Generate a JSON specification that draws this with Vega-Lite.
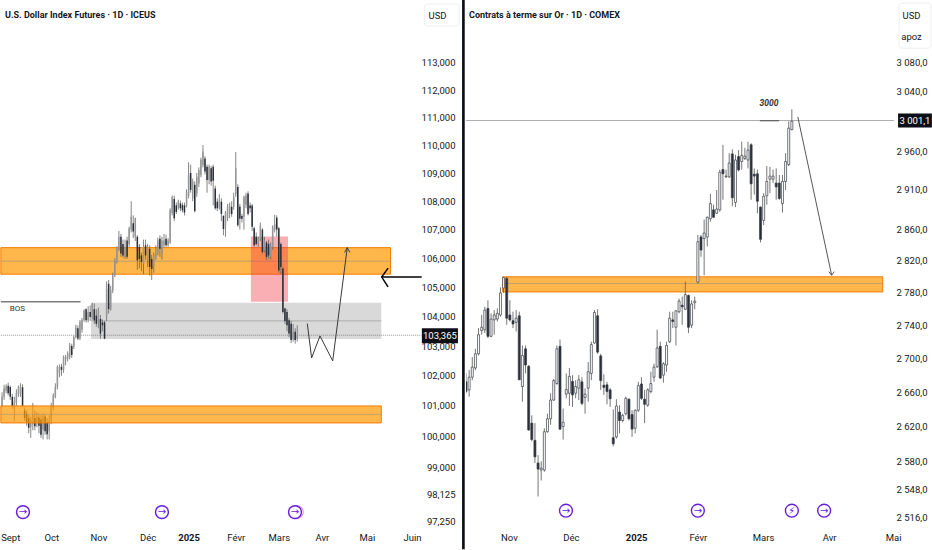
{"$schema":"https://vega.github.io/schema/vega-lite/v6.json","padding":0,"spacing":0,"background":"white","config":{"view":{"stroke":null},"font":"Roboto","concat":{"spacing":0}},
"datasets":{
"candL":[
{"i":1,"o":101.0,"c":101.3,"h":101.45,"l":100.95},{"i":2,"o":101.3,"c":101.58,"h":101.7,"l":101.2},{"i":3,"o":101.5,"c":101.65,"h":101.72,"l":101.42},{"i":4,"o":101.67,"c":101.42,"h":101.77,"l":101.35},{"i":5,"o":101.63,"c":101.3,"h":101.68,"l":101.2},{"i":6,"o":101.3,"c":101.0,"h":101.4,"l":100.9},{"i":7,"o":100.92,"c":101.15,"h":101.3,"l":100.5},{"i":8,"o":101.1,"c":101.42,"h":101.55,"l":101.0},{"i":9,"o":101.4,"c":101.62,"h":101.68,"l":101.3},
{"i":10,"o":101.42,"c":101.65,"h":101.75,"l":101.3},{"i":11,"o":101.62,"c":101.0,"h":101.72,"l":100.95},{"i":12,"o":100.85,"c":100.6,"h":100.95,"l":100.5},{"i":13,"o":100.75,"c":100.45,"h":100.85,"l":100.35},{"i":14,"o":100.6,"c":100.28,"h":100.7,"l":100.1},{"i":15,"o":100.3,"c":100.55,"h":100.65,"l":99.95},{"i":16,"o":100.4,"c":100.7,"h":101.1,"l":100.2},{"i":17,"o":100.6,"c":100.33,"h":100.85,"l":100.2},{"i":18,"o":100.45,"c":100.65,"h":100.8,"l":100.3},{"i":19,"o":100.62,"c":100.35,"h":100.75,"l":100.1},
{"i":20,"o":100.55,"c":100.05,"h":100.7,"l":99.95},{"i":21,"o":100.22,"c":100.65,"h":100.75,"l":99.9},{"i":22,"o":100.65,"c":100.17,"h":100.72,"l":100.05},{"i":23,"o":100.45,"c":100.07,"h":100.6,"l":99.9},{"i":24,"o":100.17,"c":100.5,"h":100.7,"l":99.9},{"i":25,"o":100.5,"c":100.98,"h":101.1,"l":100.4},{"i":26,"o":100.93,"c":101.35,"h":101.42,"l":100.85},{"i":27,"o":101.3,"c":101.63,"h":101.75,"l":101.25},{"i":28,"o":101.63,"c":102.3,"h":102.35,"l":101.55},{"i":29,"o":102.08,"c":102.3,"h":102.38,"l":101.95},
{"i":30,"o":102.3,"c":102.2,"h":102.4,"l":102.0},{"i":31,"o":102.2,"c":102.63,"h":102.68,"l":102.1},{"i":32,"o":102.55,"c":102.63,"h":102.7,"l":102.35},{"i":33,"o":102.58,"c":102.75,"h":102.82,"l":102.48},{"i":34,"o":102.63,"c":103.03,"h":103.1,"l":102.55},{"i":35,"o":103.0,"c":102.7,"h":103.08,"l":102.6},{"i":36,"o":102.98,"c":103.3,"h":103.35,"l":102.9},{"i":37,"o":103.3,"c":103.63,"h":103.72,"l":103.25},{"i":38,"o":103.6,"c":103.25,"h":103.7,"l":103.2},{"i":39,"o":103.25,"c":103.82,"h":103.88,"l":103.2},
{"i":40,"o":103.55,"c":103.88,"h":103.95,"l":103.45},{"i":41,"o":103.88,"c":104.2,"h":104.25,"l":103.82},{"i":42,"o":104.25,"c":103.87,"h":104.28,"l":103.8},{"i":43,"o":103.87,"c":104.15,"h":104.35,"l":103.8},{"i":44,"o":104.15,"c":103.98,"h":104.38,"l":103.85},{"i":45,"o":103.98,"c":104.43,"h":104.47,"l":103.9},{"i":46,"o":104.25,"c":103.87,"h":104.45,"l":103.75},{"i":47,"o":104.03,"c":103.75,"h":104.25,"l":103.65},{"i":48,"o":103.85,"c":104.2,"h":104.3,"l":103.6},{"i":49,"o":103.92,"c":103.42,"h":104.05,"l":103.25},
{"i":50,"o":103.8,"c":103.7,"h":103.9,"l":103.5},{"i":51,"o":103.8,"c":103.25,"h":103.85,"l":103.23},{"i":52,"o":104.02,"c":104.95,"h":105.2,"l":103.85},{"i":53,"o":105.12,"c":104.25,"h":105.25,"l":104.1},{"i":54,"o":104.25,"c":104.9,"h":105.05,"l":104.2},{"i":55,"o":104.88,"c":105.4,"h":105.5,"l":104.8},{"i":56,"o":105.4,"c":105.93,"h":106.0,"l":105.35},{"i":57,"o":105.87,"c":106.38,"h":106.42,"l":105.82},{"i":58,"o":106.33,"c":106.75,"h":106.95,"l":106.25},{"i":59,"o":106.75,"c":106.17,"h":106.85,"l":106.05},
{"i":60,"o":106.5,"c":106.1,"h":106.65,"l":106.02},{"i":61,"o":106.05,"c":106.4,"h":106.65,"l":105.98},{"i":62,"o":106.62,"c":106.05,"h":106.75,"l":105.98},{"i":63,"o":106.5,"c":107.05,"h":107.1,"l":106.4},{"i":64,"o":107.0,"c":107.45,"h":108.0,"l":106.9},{"i":65,"o":107.22,"c":106.93,"h":107.5,"l":106.7},{"i":66,"o":106.75,"c":107.4,"h":107.42,"l":106.6},{"i":67,"o":106.75,"c":105.93,"h":106.8,"l":105.6},{"i":68,"o":106.4,"c":105.98,"h":106.5,"l":105.65},{"i":69,"o":106.1,"c":105.87,"h":106.2,"l":105.55},
{"i":70,"o":105.8,"c":106.4,"h":106.65,"l":105.45},{"i":71,"o":106.45,"c":106.1,"h":106.65,"l":105.95},{"i":72,"o":105.93,"c":106.38,"h":106.5,"l":105.7},{"i":73,"o":106.33,"c":105.7,"h":106.45,"l":105.4},{"i":74,"o":105.98,"c":105.63,"h":106.12,"l":105.25},{"i":75,"o":105.75,"c":106.1,"h":106.2,"l":105.5},{"i":76,"o":106.0,"c":106.33,"h":106.45,"l":105.95},{"i":77,"o":106.2,"c":106.62,"h":106.72,"l":106.1},{"i":78,"o":106.68,"c":106.33,"h":106.8,"l":106.05},{"i":79,"o":106.15,"c":106.62,"h":106.75,"l":105.95},
{"i":80,"o":106.45,"c":106.62,"h":106.85,"l":106.38},{"i":81,"o":106.68,"c":106.45,"h":106.82,"l":106.4},{"i":82,"o":106.45,"c":106.62,"h":106.7,"l":106.4},{"i":83,"o":106.55,"c":107.7,"h":107.75,"l":106.5},{"i":84,"o":107.58,"c":108.15,"h":108.2,"l":107.5},{"i":85,"o":108.08,"c":107.4,"h":108.2,"l":107.3},{"i":86,"o":107.85,"c":107.62,"h":107.95,"l":107.55},{"i":87,"o":107.78,"c":107.98,"h":108.05,"l":107.7},{"i":88,"o":107.92,"c":107.75,"h":108.02,"l":107.65},{"i":89,"o":107.87,"c":107.68,"h":107.95,"l":107.6},
{"i":90,"o":107.85,"c":107.6,"h":107.95,"l":107.5},{"i":91,"o":107.85,"c":108.33,"h":108.42,"l":107.78},{"i":92,"o":108.2,"c":108.92,"h":109.38,"l":108.1},{"i":93,"o":109.0,"c":108.4,"h":109.3,"l":108.3},{"i":94,"o":108.1,"c":108.7,"h":108.8,"l":108.0},{"i":95,"o":108.58,"c":107.65,"h":108.7,"l":107.6},{"i":96,"o":108.27,"c":108.87,"h":109.0,"l":108.15},{"i":97,"o":108.63,"c":109.1,"h":109.2,"l":108.5},{"i":98,"o":108.93,"c":109.47,"h":109.55,"l":108.85},{"i":99,"o":109.28,"c":109.77,"h":110.0,"l":109.2},
{"i":100,"o":109.52,"c":109.05,"h":109.6,"l":108.95},{"i":101,"o":109.22,"c":108.75,"h":109.3,"l":108.3},{"i":102,"o":108.75,"c":109.22,"h":109.3,"l":108.6},{"i":103,"o":109.17,"c":108.7,"h":109.25,"l":108.55},{"i":104,"o":109.22,"c":108.72,"h":109.3,"l":107.85},{"i":105,"o":108.45,"c":107.75,"h":108.55,"l":107.7},{"i":106,"o":107.98,"c":107.75,"h":108.1,"l":107.65},{"i":107,"o":107.75,"c":108.03,"h":108.25,"l":107.7},{"i":108,"o":107.98,"c":107.55,"h":108.1,"l":107.3},{"i":109,"o":107.48,"c":107.02,"h":107.5,"l":106.8},
{"i":110,"o":107.15,"c":107.6,"h":107.65,"l":106.75},{"i":111,"o":107.4,"c":107.8,"h":107.9,"l":107.3},{"i":112,"o":107.55,"c":107.85,"h":107.95,"l":107.4},{"i":113,"o":107.8,"c":107.55,"h":108.0,"l":107.45},{"i":114,"o":107.8,"c":108.15,"h":108.3,"l":107.7},{"i":115,"o":108.25,"c":109.17,"h":109.75,"l":108.15},{"i":116,"o":108.5,"c":107.15,"h":108.6,"l":107.1},{"i":117,"o":107.8,"c":107.38,"h":107.9,"l":107.0},{"i":118,"o":107.48,"c":107.38,"h":107.55,"l":107.25},{"i":119,"o":107.45,"c":108.15,"h":108.2,"l":107.0},
{"i":120,"o":107.87,"c":108.2,"h":108.3,"l":107.75},{"i":121,"o":108.27,"c":107.55,"h":108.35,"l":107.5},{"i":122,"o":107.85,"c":107.75,"h":107.95,"l":107.6},{"i":123,"o":107.85,"c":107.1,"h":107.9,"l":106.95},{"i":124,"o":107.05,"c":106.45,"h":107.1,"l":106.4},{"i":125,"o":106.75,"c":106.5,"h":106.9,"l":106.45},{"i":126,"o":106.55,"c":106.68,"h":106.75,"l":106.4},{"i":127,"o":106.68,"c":107.13,"h":107.25,"l":106.6},{"i":128,"o":107.0,"c":106.22,"h":107.05,"l":106.15},{"i":129,"o":106.28,"c":106.62,"h":106.75,"l":106.2},
{"i":130,"o":106.55,"c":106.05,"h":106.6,"l":105.95},{"i":131,"o":106.5,"c":106.1,"h":106.65,"l":106.0},{"i":132,"o":106.05,"c":106.45,"h":106.55,"l":105.97},{"i":133,"o":106.38,"c":107.1,"h":107.15,"l":106.3},{"i":134,"o":107.0,"c":107.2,"h":107.52,"l":106.9},{"i":135,"o":107.42,"c":107.0,"h":107.5,"l":106.75},{"i":136,"o":107.05,"c":105.58,"h":107.1,"l":105.5},{"i":137,"o":106.5,"c":105.7,"h":106.55,"l":105.45},{"i":138,"o":105.65,"c":104.15,"h":105.7,"l":104.1},{"i":139,"o":104.27,"c":103.85,"h":104.3,"l":103.75},
{"i":140,"o":104.15,"c":103.7,"h":104.25,"l":103.5},{"i":141,"o":103.87,"c":103.42,"h":103.95,"l":103.3},{"i":142,"o":103.75,"c":103.2,"h":103.85,"l":103.1},{"i":143,"o":103.22,"c":103.48,"h":103.75,"l":103.15},{"i":144,"o":103.48,"c":103.2,"h":103.6,"l":103.08},{"i":145,"o":103.25,"c":103.37,"h":103.7,"l":103.15}],
"candR":[
{"i":0,"o":2672.5,"h":2682.5,"l":2659,"c":2661},{"i":1,"o":2663,"h":2686.5,"l":2655,"c":2678},{"i":2,"o":2678,"h":2702,"l":2674.5,"c":2690},{"i":3,"o":2689,"h":2712,"l":2686.5,"c":2706},{"i":4,"o":2706,"h":2737,"l":2704,"c":2729},{"i":5,"o":2734,"h":2753,"l":2729,"c":2738},{"i":6,"o":2735,"h":2763,"l":2731,"c":2759},{"i":7,"o":2761,"h":2771,"l":2725,"c":2727},{"i":8,"o":2727,"h":2755,"l":2726,"c":2748},{"i":9,"o":2747,"h":2759,"l":2729,"c":2753},
{"i":10,"o":2748,"h":2761,"l":2745,"c":2755},{"i":11,"o":2753,"h":2787,"l":2751,"c":2780},{"i":12,"o":2786,"h":2800,"l":2780,"c":2799},{"i":13,"o":2798,"h":2800,"l":2741,"c":2749},{"i":14,"o":2753,"h":2771,"l":2745,"c":2747},{"i":15,"o":2746,"h":2757,"l":2737,"c":2742},{"i":16,"o":2744,"h":2759,"l":2733,"c":2749},{"i":17,"o":2752,"h":2757,"l":2674.5,"c":2675},{"i":18,"o":2667,"h":2716,"l":2649,"c":2704},{"i":19,"o":2712,"h":2716,"l":2682.5,"c":2692.5},
{"i":20,"o":2691,"h":2692.5,"l":2615,"c":2616},{"i":21,"o":2624,"h":2633,"l":2603,"c":2605},{"i":22,"o":2604,"h":2624,"l":2578,"c":2585},{"i":23,"o":2578,"h":2587,"l":2540,"c":2571},{"i":24,"o":2570,"h":2580,"l":2558,"c":2572},{"i":25,"o":2570,"h":2618,"l":2568,"c":2614},{"i":26,"o":2614,"h":2635,"l":2613,"c":2629},{"i":27,"o":2629,"h":2659,"l":2622,"c":2651},{"i":28,"o":2651,"h":2676,"l":2650,"c":2674},{"i":29,"o":2670.5,"h":2716,"l":2669,"c":2712},
{"i":30,"o":2715,"h":2723,"l":2616,"c":2617},{"i":31,"o":2620,"h":2641,"l":2605,"c":2625},{"i":32,"o":2658,"h":2682.5,"l":2653,"c":2663.5},{"i":33,"o":2659,"h":2689,"l":2644,"c":2679},{"i":34,"o":2673,"h":2680.5,"l":2643,"c":2657},{"i":35,"o":2659,"h":2674.5,"l":2653,"c":2667},{"i":36,"o":2665,"h":2680.5,"l":2651,"c":2675},{"i":37,"o":2672.5,"h":2678,"l":2645,"c":2647},{"i":38,"o":2654,"h":2665,"l":2635,"c":2658},{"i":39,"o":2665,"h":2696,"l":2649,"c":2684.5},
{"i":40,"o":2682.5,"h":2720.5,"l":2674.5,"c":2717},{"i":41,"o":2719,"h":2759,"l":2718,"c":2756},{"i":42,"o":2752,"h":2760,"l":2706,"c":2708},{"i":43,"o":2703.5,"h":2706,"l":2663,"c":2674},{"i":44,"o":2668.5,"h":2681.5,"l":2657,"c":2666},{"i":45,"o":2669,"h":2672.5,"l":2646,"c":2661},{"i":46,"o":2663,"h":2665,"l":2643,"c":2652.5},{"i":47,"o":2607,"h":2640,"l":2597,"c":2600},{"i":48,"o":2608,"h":2652,"l":2606,"c":2644},{"i":49,"o":2637,"h":2645,"l":2612,"c":2627},
{"i":50,"o":2627,"h":2635,"l":2625,"c":2633},{"i":51,"o":2635,"h":2655,"l":2633,"c":2653},{"i":52,"o":2652,"h":2653,"l":2627,"c":2629},{"i":53,"o":2634,"h":2639,"l":2608,"c":2617},{"i":54,"o":2618,"h":2640,"l":2612,"c":2639},{"i":55,"o":2639,"h":2672.5,"l":2637,"c":2668},{"i":56,"o":2670,"h":2678,"l":2651,"c":2653},{"i":57,"o":2652,"h":2663,"l":2624,"c":2646},{"i":58,"o":2645,"h":2665,"l":2643,"c":2663},{"i":59,"o":2661,"h":2684.5,"l":2659,"c":2670.5},
{"i":60,"o":2678,"h":2694,"l":2672.5,"c":2690},{"i":61,"o":2690.5,"h":2735,"l":2689,"c":2713},{"i":62,"o":2715,"h":2720.5,"l":2676,"c":2677},{"i":63,"o":2680.5,"h":2696,"l":2671.5,"c":2694},{"i":64,"o":2692.5,"h":2720.5,"l":2684.5,"c":2716},{"i":65,"o":2720.5,"h":2757,"l":2719,"c":2749},{"i":66,"o":2747,"h":2757,"l":2737,"c":2745},{"i":67,"o":2738,"h":2759,"l":2716,"c":2758},{"i":68,"o":2757,"h":2773,"l":2755,"c":2770},{"i":69,"o":2765,"h":2775.5,"l":2741,"c":2763},
{"i":70,"o":2760,"h":2794,"l":2759,"c":2778},{"i":71,"o":2777,"h":2778,"l":2731,"c":2738},{"i":72,"o":2740.5,"h":2771,"l":2737,"c":2766.5},{"i":73,"o":2768,"h":2775.5,"l":2760,"c":2770},{"i":74,"o":2793.5,"h":2852.5,"l":2792,"c":2844},{"i":75,"o":2850,"h":2852.5,"l":2825,"c":2833.5},{"i":76,"o":2848,"h":2872,"l":2802,"c":2855},{"i":77,"o":2850,"h":2876,"l":2838,"c":2875},{"i":78,"o":2873,"h":2905,"l":2869.5,"c":2892.5},{"i":79,"o":2884.5,"h":2891,"l":2874,"c":2875},
{"i":80,"o":2880,"h":2910,"l":2879.5,"c":2885.5},{"i":81,"o":2884.5,"h":2936.5,"l":2882,"c":2933},{"i":82,"o":2936.5,"h":2969,"l":2897.5,"c":2931},{"i":83,"o":2927,"h":2936.5,"l":2925.5,"c":2928},{"i":84,"o":2927,"h":2958,"l":2925.5,"c":2945},{"i":85,"o":2957,"h":2963,"l":2889,"c":2900},{"i":86,"o":2894,"h":2956,"l":2888,"c":2949},{"i":87,"o":2953.5,"h":2962,"l":2934,"c":2936},{"i":88,"o":2947,"h":2973,"l":2936.5,"c":2955},{"i":89,"o":2951,"h":2965,"l":2949,"c":2954},
{"i":90,"o":2949,"h":2973,"l":2938,"c":2962},{"i":91,"o":2969,"h":2971,"l":2897.5,"c":2918},{"i":92,"o":2930.5,"h":2938,"l":2904,"c":2928},{"i":93,"o":2931,"h":2936.5,"l":2880,"c":2895.5},{"i":94,"o":2888,"h":2889,"l":2843,"c":2847},{"i":95,"o":2871,"h":2906,"l":2865,"c":2902},{"i":96,"o":2902.5,"h":2941,"l":2891,"c":2921},{"i":97,"o":2924,"h":2940,"l":2906,"c":2928},{"i":98,"o":2924,"h":2936.5,"l":2919,"c":2928},{"i":99,"o":2919,"h":2938,"l":2897.5,"c":2914},
{"i":100,"o":2919,"h":2929.5,"l":2897.5,"c":2899},{"i":101,"o":2892.5,"h":2929.5,"l":2881,"c":2921},{"i":102,"o":2921,"h":2958,"l":2910,"c":2947},{"i":103,"o":2943,"h":3000,"l":2941,"c":2991},{"i":104,"o":2989,"h":3016,"l":2988,"c":3000}],
"linesL":[
{"id":"path","n":0,"i":149.9,"v":103.76},{"id":"path","n":1,"i":152,"v":102.6},{"id":"path","n":2,"i":156.1,"v":103.34},{"id":"path","n":3,"i":162.3,"v":102.5},{"id":"path","n":4,"i":169.4,"v":106.37},{"id":"head","n":0,"i":168.1,"v":106.2},{"id":"head","n":1,"i":169.4,"v":106.37},{"id":"head","n":2,"i":170.7,"v":106.2},
{"id":"bos","n":0,"i":0.4,"v":104.5},{"id":"bos","n":1,"i":39.3,"v":104.5}],
"arrowL":[{"id":"shaft","n":0,"i":205.7,"v":105.35},{"id":"shaft","n":1,"i":186.2,"v":105.35},{"id":"tip","n":0,"i":189.3,"v":105.66},{"id":"tip","n":1,"i":186.2,"v":105.35},{"id":"tip","n":2,"i":189.3,"v":105.01}],
"linesR":[{"id":"a","n":0,"i":105.9,"v":3006},{"id":"a","n":1,"i":116.7,"v":2802},{"id":"b","n":0,"i":115.8,"v":2806.4},{"id":"b","n":1,"i":116.7,"v":2802},{"id":"b","n":2,"i":117.5,"v":2806.4},{"id":"c","n":0,"i":93.8,"v":3000.8},{"id":"c","n":1,"i":99.9,"v":3000.8}],
"iconsL":[{"i":11.2,"v":97.55,"t":"→"},{"i":79,"v":97.55,"t":"→"},{"i":143.9,"v":97.55,"t":"→"}],
"iconsR":[{"i":31.9,"v":2524,"t":"→"},{"i":74,"v":2524,"t":"→"},{"i":104,"v":2524,"t":"⚡"},{"i":114.3,"v":2524,"t":"→"}]
},
"hconcat":[
{"width":421,"height":525,
"encoding":{
"x":{"field":"i","type":"quantitative","scale":{"domain":[0,205.37],"nice":false,"zero":false,"padding":0},"axis":{"values":[5,25,48,72,92,115,136,157,179,201],"labelExpr":"{'5':'Sept','25':'Oct','48':'Nov','72':'Déc','92':'2025','115':'Févr','136':'Mars','157':'Avr','179':'Mai','201':'Juin'}[datum.value]","labelFontWeight":{"condition":{"test":"datum.value==92","value":"bold"},"value":"normal"},"title":null,"grid":false,"domain":false,"ticks":false,"labelPadding":7,"labelFontSize":9.5,"labelColor":"#131722","labelOverlap":false,"labelBound":false,"labelFlush":false,"minExtent":25,"maxExtent":25}},
"y":{"field":"v","type":"quantitative","scale":{"type":"log","domain":[97.14,115.35],"nice":false,"zero":false},"axis":{"values":[113,112,111,110,109,108,107,106,105,104,103,102,101,100,99,98.125,97.25],"labelExpr":"replace(format(datum.value,'.3f'),'.',',')","orient":"right","title":"USD","titleAngle":0,"titleX":16,"titleY":15,"titleAlign":"center","titleBaseline":"middle","titleFontSize":9.5,"titleFontWeight":"normal","titleColor":"#131722","grid":false,"domain":false,"ticks":false,"labelAlign":"right","labelPadding":34,"labelFontSize":9.5,"labelColor":"#131722","labelOverlap":false,"labelBound":false,"minExtent":44,"maxExtent":44}}},
"layer":[
{"data":{"values":[{"i":0.4,"i2":190.5,"v":106.37,"v2":105.45}]},"mark":{"type":"rect","fill":"#ffb74c","stroke":"#f57c00","strokeWidth":1,"clip":true},"encoding":{"x2":{"field":"i2"},"y2":{"field":"v2"}}},
{"data":{"values":[{"i":44.4,"i2":186,"v":104.47,"v2":103.24}]},"mark":{"type":"rect","fill":"#d9d9d9"},"encoding":{"x2":{"field":"i2"},"y2":{"field":"v2"}}},
{"data":{"values":[{"i":0.4,"i2":190.5,"v":105.9},{"i":44.4,"i2":186,"v":103.85}]},"mark":{"type":"rule","stroke":"#8a8a8a","strokeOpacity":0.55,"strokeWidth":1},"encoding":{"x2":{"field":"i2"}}},
{"data":{"values":[{"i":122.4,"i2":140.5,"v":106.76,"v2":104.5}]},"mark":{"type":"rect","fill":"#f23645","fillOpacity":0.4},"encoding":{"x2":{"field":"i2"},"y2":{"field":"v2"}}},
{"data":{"values":[{"i":0.4,"i2":205.5,"v":103.365}]},"mark":{"type":"rule","stroke":"#777","strokeWidth":0.8,"strokeDash":[1,1]},"encoding":{"x2":{"field":"i2"}}},
{"data":{"name":"candL"},"mark":{"type":"rule","stroke":"#666","strokeWidth":0.8,"clip":true},"encoding":{"y":{"field":"h","type":"quantitative"},"y2":{"field":"l"}}},
{"data":{"name":"candL"},"mark":{"type":"bar","size":1.5,"clip":true},"encoding":{"y":{"field":"o","type":"quantitative"},"y2":{"field":"c"},"fill":{"condition":{"test":"datum.c>=datum.o","value":"#969696"},"value":"#2a2e39"}}},
{"data":{"values":[{"i":0.4,"i2":186,"v":101.0,"v2":100.44}]},"mark":{"type":"rect","fill":"#ff9800","fillOpacity":0.7,"stroke":"#f57c00","strokeWidth":1,"clip":true},"encoding":{"x2":{"field":"i2"},"y2":{"field":"v2"}}},
{"data":{"values":[{"i":0.4,"i2":186,"v":100.72}]},"mark":{"type":"rule","stroke":"#8a8a8a","strokeOpacity":0.45,"strokeWidth":1},"encoding":{"x2":{"field":"i2"}}},
{"data":{"name":"linesL"},"mark":{"type":"line","stroke":"#3a3a3a","strokeWidth":1,"clip":true},"encoding":{"detail":{"field":"id"},"order":{"field":"n"}}},
{"data":{"name":"arrowL"},"mark":{"type":"line","stroke":"#000","strokeWidth":1.5},"encoding":{"detail":{"field":"id"},"order":{"field":"n"}}},
{"data":{"values":[{"i":144.8,"v":97.55}]},"mark":{"type":"point","shape":"circle","size":165,"filled":false,"stroke":"#d070c8","strokeWidth":1.2}},
{"data":{"name":"iconsL"},"mark":{"type":"point","shape":"circle","size":165,"filled":false,"fill":"white","fillOpacity":1,"stroke":"#6a1be0","strokeWidth":1.4}},
{"data":{"name":"iconsL"},"mark":{"type":"text","fontSize":10,"font":"DejaVu Sans","color":"#6a1be0","baseline":"middle"},"encoding":{"text":{"field":"t"}}},
{"data":{"values":[{"i":2.44,"v":114.79,"t":"U.S. Dollar Index Futures · 1D · ICEUS"}]},"mark":{"type":"text","align":"left","baseline":"middle","fontSize":9,"fontWeight":"bold","color":"#131722"},"encoding":{"text":{"field":"t"}}},
{"data":{"values":[{"i":8.5,"v":104.25,"t":"BOS"}]},"mark":{"type":"text","baseline":"middle","fontSize":8,"color":"#333"},"encoding":{"text":{"field":"t"}}},
{"data":{"values":[{"i":207,"i2":224,"v":115.2,"v2":114.37}]},"mark":{"type":"rect","fill":"transparent","stroke":"#eeeeee","strokeWidth":1,"cornerRadius":3},"encoding":{"x2":{"field":"i2"},"y2":{"field":"v2"}}},
{"data":{"values":[{"i":205.8,"i2":223.4,"v":103.6,"v2":103.095}]},"mark":{"type":"rect","fill":"#0c0f17"},"encoding":{"x2":{"field":"i2"},"y2":{"field":"v2"}}},
{"data":{"values":[{"i":214.6,"v":103.345,"t":"103,365"}]},"mark":{"type":"text","baseline":"middle","fontSize":9.5,"color":"#fff"},"encoding":{"text":{"field":"t"}}},
{"data":{"values":[{"i":225.4,"i2":226.7,"v":115.35,"v2":96.37}]},"mark":{"type":"rect","fill":"#0c0f17"},"encoding":{"x2":{"field":"i2"},"y2":{"field":"v2"}}}
]},
{"width":428,"height":525,
"encoding":{
"x":{"field":"i","type":"quantitative","scale":{"domain":[0,136.6],"nice":false,"zero":false,"padding":0},"axis":{"values":[13.7,33.5,54.3,74,94.8,115.9,136.3],"labelExpr":"{'13.7':'Nov','33.5':'Déc','54.3':'2025','74':'Févr','94.8':'Mars','115.9':'Avr','136.3':'Mai'}[datum.value]","labelFontWeight":{"condition":{"test":"datum.value==54.3","value":"bold"},"value":"normal"},"title":null,"grid":false,"domain":false,"ticks":false,"labelPadding":7,"labelFontSize":9.5,"labelColor":"#131722","labelOverlap":false,"labelBound":false,"labelFlush":false,"minExtent":25,"maxExtent":25}},
"y":{"field":"v","type":"quantitative","scale":{"type":"log","domain":[2508,3166],"nice":false,"zero":false},"axis":{"values":[3080,3040,2960,2910,2860,2820,2780,2740,2700,2660,2620,2580,2548,2516],"labelExpr":"replace(replace(format(datum.value,',.1f'),',',' '),'.',',')","orient":"right","title":["USD","apoz"],"titleAngle":0,"titleX":17,"titleY":15,"titleAlign":"center","titleBaseline":"middle","titleFontSize":9.5,"titleFontWeight":"normal","titleColor":"#131722","titleLineHeight":21,"grid":false,"domain":false,"ticks":false,"labelAlign":"right","labelPadding":33,"labelFontSize":9.5,"labelColor":"#131722","labelOverlap":false,"labelBound":false,"minExtent":39,"maxExtent":39}}},
"layer":[
{"data":{"values":[{"i":11.7,"i2":133,"v":2800,"v2":2781.3}]},"mark":{"type":"rect","fill":"#ffb74c","stroke":"#f57c00","strokeWidth":1},"encoding":{"x2":{"field":"i2"},"y2":{"field":"v2"}}},
{"data":{"values":[{"i":11.7,"i2":133,"v":2791.7}]},"mark":{"type":"rule","stroke":"#8a8a8a","strokeOpacity":0.5,"strokeWidth":1},"encoding":{"x2":{"field":"i2"}}},
{"data":{"values":[{"i":0,"i2":136.6,"v":3001.1}]},"mark":{"type":"rule","stroke":"#888","strokeWidth":0.7},"encoding":{"x2":{"field":"i2"}}},
{"data":{"name":"candR"},"mark":{"type":"rule","stroke":"#666","strokeWidth":0.9,"clip":true},"encoding":{"y":{"field":"h","type":"quantitative"},"y2":{"field":"l"}}},
{"data":{"name":"candR"},"mark":{"type":"bar","size":2,"stroke":"#3a3d46","strokeWidth":0.7,"clip":true},"encoding":{"y":{"field":"o","type":"quantitative"},"y2":{"field":"c"},"fill":{"condition":{"test":"datum.c>=datum.o","value":"#ffffff"},"value":"#2a2e39"}}},
{"data":{"name":"linesR"},"mark":{"type":"line","stroke":"#444","strokeWidth":0.9},"encoding":{"detail":{"field":"id"},"order":{"field":"n"}}},
{"data":{"name":"iconsR"},"mark":{"type":"point","shape":"circle","size":165,"filled":false,"fill":"white","fillOpacity":1,"stroke":"#6a1be0","strokeWidth":1.4}},
{"data":{"name":"iconsR"},"mark":{"type":"text","fontSize":10,"font":"DejaVu Sans","color":"#6a1be0","baseline":"middle"},"encoding":{"text":{"field":"t"}}},
{"data":{"values":[{"i":0.96,"v":3145,"t":"Contrats à terme sur Or · 1D · COMEX"}]},"mark":{"type":"text","align":"left","baseline":"middle","fontSize":9,"fontWeight":"bold","color":"#131722"},"encoding":{"text":{"field":"t"}}},
{"data":{"values":[{"i":96.7,"v":3024,"t":"3000"}]},"mark":{"type":"text","baseline":"middle","fontSize":8.5,"fontStyle":"italic","fontWeight":"bold","color":"#333"},"encoding":{"text":{"field":"t"}}},
{"data":{"values":[{"i":138.2,"i2":148.4,"v":3161.7,"v2":3099}]},"mark":{"type":"rect","fill":"transparent","stroke":"#eeeeee","strokeWidth":1,"cornerRadius":3},"encoding":{"x2":{"field":"i2"},"y2":{"field":"v2"}}},
{"data":{"values":[{"i":137.9,"i2":148.7,"v":3010.4,"v2":2991.8}]},"mark":{"type":"rect","fill":"#0c0f17"},"encoding":{"x2":{"field":"i2"},"y2":{"field":"v2"}}},
{"data":{"values":[{"i":143.3,"v":3000.6,"t":"3 001,1"}]},"mark":{"type":"text","baseline":"middle","fontSize":9.5,"color":"#fff"},"encoding":{"text":{"field":"t"}}}
]}
]}
